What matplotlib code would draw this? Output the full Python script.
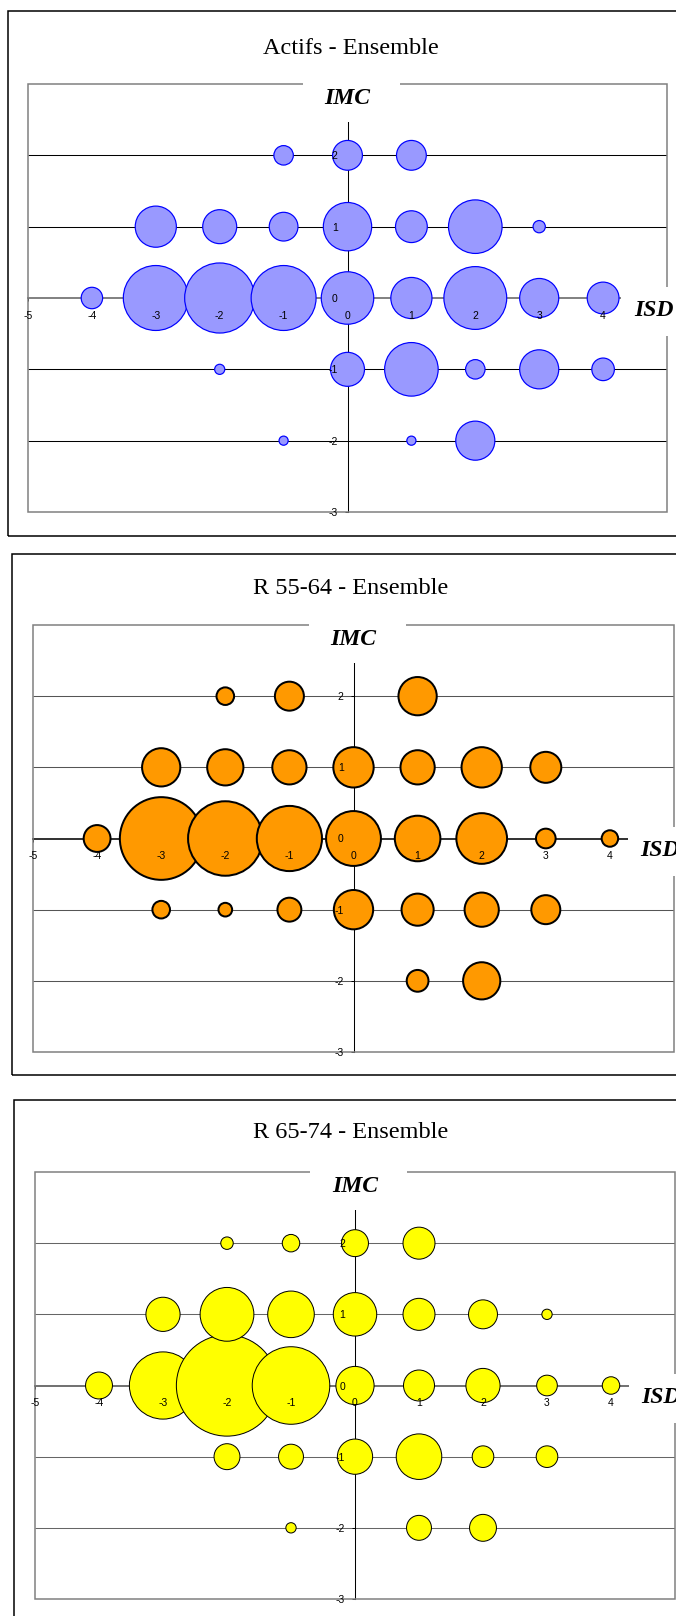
import matplotlib.pyplot as plt
from matplotlib.patches import Rectangle
from matplotlib.markers import TICKDOWN, TICKLEFT

# bubble charts: ISD (x) vs IMC (y), bubble area ~ weight
titles = ['Actifs - Ensemble', 'R 55-64 - Ensemble', 'R 65-74 - Ensemble']

actifs_isd = [-1, 1, 2,
              -2, 0, 1, 2, 3, 4,
              -4, -3, -2, -1, 0, 1, 2, 3, 4,
              -3, -2, -1, 0, 1, 2, 3,
              -1, 0, 1]
actifs_imc = [-2, -2, -2,
              -1, -1, -1, -1, -1, -1,
              0, 0, 0, 0, 0, 0, 0, 0, 0,
              1, 1, 1, 1, 1, 1, 1,
              2, 2, 2]
actifs_w = [1.0, 1.0, 15.2,
            1.2, 11.6, 28.1, 4.0, 15.2, 5.3,
            4.8, 41.0, 47.6, 41.0, 27.0, 16.8, 38.4, 15.2, 10.2,
            16.8, 11.6, 8.4, 23.0, 10.2, 28.1, 1.7,
            4.0, 9.0, 9.0]

r5564_isd = [1, 2,
             -3, -2, -1, 0, 1, 2, 3,
             -4, -3, -2, -1, 0, 1, 2, 3, 4,
             -3, -2, -1, 0, 1, 2, 3,
             -2, -1, 1]
r5564_imc = [-2, -2,
             -1, -1, -1, -1, -1, -1, -1,
             0, 0, 0, 0, 0, 0, 0, 0, 0,
             1, 1, 1, 1, 1, 1, 1,
             2, 2, 2]
r5564_w = [5.3, 14.4,
           3.6, 2.3, 6.3, 16.0, 10.9, 12.3, 9.0,
           7.8, 67.2, 54.8, 42.3, 30.3, 21.2, 26.0, 4.4, 3.2,
           15.2, 13.7, 12.3, 16.8, 12.3, 16.8, 10.2,
           3.6, 9.0, 15.2]

r6574_isd = [-1, 1, 2,
             -2, -1, 0, 1, 2, 3,
             -4, -3, -2, -1, 0, 1, 2, 3, 4,
             -3, -2, -1, 0, 1, 2, 3,
             -2, -1, 0, 1]
r6574_imc = [-2, -2, -2,
             -1, -1, -1, -1, -1, -1,
             0, 0, 0, 0, 0, 0, 0, 0, 0,
             1, 1, 1, 1, 1, 1, 1,
             2, 2, 2, 2]
r6574_w = [1.2, 6.3, 7.3,
           6.8, 6.3, 12.3, 20.3, 4.8, 4.8,
           7.3, 43.6, 98.0, 57.8, 14.4, 9.6, 11.6, 4.4, 3.2,
           11.6, 28.1, 21.2, 18.5, 10.2, 8.4, 1.2,
           1.7, 3.2, 7.3, 10.2]

x_ticks = [-5, -4, -3, -2, -1, 0, 1, 2, 3, 4]
x_tick_labels = ['-5', '-4', '-3', '-2', '-1', '0', '1', '2', '3', '4']
y_ticks = [-3, -2, -1, 0, 1, 2]
y_tick_labels = ['-3', '-2', '-1', '0', '1', '2']
grid_y = [-2, -1, 1, 2]

W, H = 676, 1616
fig = plt.figure(figsize=(W / 100, H / 100), dpi=100)
fig.patch.set_facecolor('white')


def fx(px):
    return px / W


def fy(py):
    return 1 - py / H


def panel(title, isd, imc, weights, face, edge, edge_px, grid_col, xaxis_col,
          outer, plot, title_y):
    ol, ot, orr, ob = outer
    fig.add_artist(Rectangle((fx(ol), fy(ob)), (orr - ol) / W, (ob - ot) / H,
                             transform=fig.transFigure, fill=False,
                             ec='black', lw=1.1))
    fig.text(fx(351), fy(title_y), title, ha='center', va='center',
             fontsize=17.5, family='Liberation Serif')

    l, t, r, b = plot
    ax = fig.add_axes([fx(l), fy(b), (r - l) / W, (b - t) / H])
    ax.set_xlim(-5, 5)
    ax.set_ylim(-3, 3)
    ax.patch.set_visible(False)

    ax.spines['top'].set_visible(False)
    ax.spines['right'].set_visible(False)
    ax.spines['left'].set_position(('data', 0))
    ax.spines['bottom'].set_position(('data', 0))
    ax.spines['left'].set_color('black')
    ax.spines['left'].set_linewidth(0.75)
    ax.spines['bottom'].set_color(xaxis_col)
    ax.spines['bottom'].set_linewidth(1.4)
    ax.spines['left'].set_zorder(1.5)
    ax.spines['bottom'].set_zorder(1.5)

    # labels on top of the bubbles, tick marks below them
    ax.set_xticks(x_ticks)
    ax.set_xticklabels(x_tick_labels, family='Liberation Sans')
    ax.set_yticks(y_ticks)
    ax.set_yticklabels(y_tick_labels, family='Liberation Sans')
    ax.tick_params(axis='x', length=0, pad=9.2, labelsize=7.5)
    ax.tick_params(axis='y', length=0, pad=7, labelsize=7.5)
    ax.xaxis.set_zorder(3.5)
    ax.yaxis.set_zorder(3.5)
    ax.plot(x_ticks, [0] * len(x_ticks), ls='none', marker=TICKDOWN,
            ms=2.5, mew=0.7, color='black', zorder=1.6, clip_on=False)
    ax.plot([0] * len(y_ticks), y_ticks, ls='none', marker=TICKLEFT,
            ms=2.5, mew=0.7, color='black', zorder=1.6, clip_on=False)

    ax.hlines(grid_y, -5, 5, colors=grid_col, lw=0.75, zorder=1)
    ax.add_patch(Rectangle((0, 0), 1, 1, transform=ax.transAxes, fill=False,
                           ec='#808080', lw=1.1, zorder=1.6, clip_on=False))

    sizes = [((10.33 * w ** 0.5 - edge_px) * 0.72) ** 2 for w in weights]
    ax.scatter(isd, imc, s=sizes, c=face, edgecolors=edge,
               linewidths=edge_px * 0.72, zorder=2, clip_on=False)

    # white backgrounds of the axis titles, breaking the plot border
    ax.add_patch(Rectangle((-0.7, 2.47), 1.52, 0.7, fc='white', ec='none',
                           zorder=3, clip_on=False))
    ax.add_patch(Rectangle((4.28, -0.53), 1.3, 0.69, fc='white', ec='none',
                           zorder=3, clip_on=False))
    ax.text(0, 2.8, 'IMC', ha='center', va='center', fontsize=17,
            fontweight='bold', fontstyle='italic', family='Liberation Serif',
            zorder=4)
    ax.text(4.48, -0.17, 'ISD', ha='left', va='center', fontsize=17,
            fontweight='bold', fontstyle='italic', family='Liberation Serif',
            zorder=4, clip_on=False)


panel(titles[0], actifs_isd, actifs_imc, actifs_w, '#9999FF', '#0000FF', 1.2,
      '#000000', '#808080', (8, 11, 720, 536), (28, 84, 667, 512), 48)
panel(titles[1], r5564_isd, r5564_imc, r5564_w, '#FF9900', '#000000', 2.0,
      '#555555', '#303030', (12, 554, 720, 1075), (33, 625, 674, 1052), 588)
panel(titles[2], r6574_isd, r6574_imc, r6574_w, '#FFFF00', '#000000', 1.0,
      '#666666', '#707070', (14, 1100, 720, 1660), (35, 1172, 675, 1599), 1133)

fig.savefig('out.png', dpi=100)
